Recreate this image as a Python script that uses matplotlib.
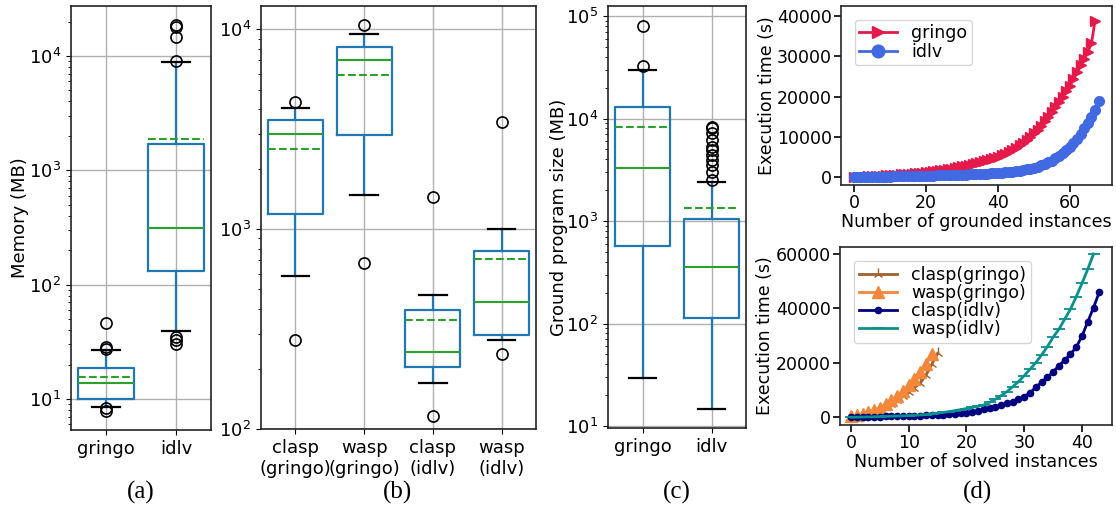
import matplotlib
matplotlib.use("Agg")
import matplotlib.pyplot as plt

# ---------------- data ----------------
# (a) memory
mem_labels = ["gringo", "idlv"]
mem_q1 = [10.0, 132]
mem_med = [13.9, 315]
mem_q3 = [18.8, 1710]
mem_mean = [15.5, 1890]
mem_whislo = [8.6, 39.4]
mem_whishi = [26.7, 8800]
mem_fliers = [[45.9, 28.6, 27.6, 8.3, 7.8],
              [18600, 17900, 14700, 9000, 35.0, 32.8, 30.5]]

# (b) solver memory
sol_labels = ["clasp\n(gringo)", "wasp\n(gringo)", "clasp\n(idlv)", "wasp\n(idlv)"]
sol_q1 = [1189, 2951, 204, 295]
sol_med = [2995, 7030, 244, 433]
sol_q3 = [3532, 8128, 392, 782]
sol_mean = [2512, 5929, 351, 710]
sol_whislo = [582, 1489, 169, 280]
sol_whishi = [4027, 9470, 468, 1000]
sol_fliers = [[4318, 280], [10507, 681], [1450, 116.5], [3450, 236]]

# (c) ground program size
gp_labels = ["gringo", "idlv"]
gp_q1 = [565, 112]
gp_med = [3280, 352]
gp_q3 = [13100, 1053]
gp_mean = [8300, 1327]
gp_whislo = [29.7, 14.8]
gp_whishi = [29650, 2377]
gp_fliers = [[32900, 80400],
             [2520, 3040, 3530, 3955, 4425, 4900, 5330, 6200, 7200, 8060, 8350]]

# (d) top: grounding times (cumulative)
gringo_time = [10, 60, 110, 160, 210, 260, 320, 380, 440, 500,
               560, 620, 680, 740, 800, 860, 930, 1000, 1080, 1160,
               1250, 1350, 1460, 1580, 1710, 1850, 2000, 2160, 2330, 2510,
               2700, 2890, 3080, 3280, 3490, 3710, 3950, 4200, 4470, 4770,
               5100, 5450, 5850, 6300, 6800, 7350, 7950, 8600, 9300, 10050,
               10900, 11800, 12800, 13900, 15000, 16200, 17400, 18700, 20000, 21300,
               22700, 24300, 26000, 27700, 29400, 31100, 33200, 38800]
idlv_time = [0, 20, 40, 60, 80, 100, 120, 140, 160, 180,
             200, 220, 240, 260, 280, 300, 320, 340, 360, 380,
             400, 420, 440, 460, 480, 510, 540, 570, 600, 630,
             660, 690, 720, 760, 800, 840, 880, 930, 980, 1040,
             1100, 1170, 1250, 1340, 1440, 1550, 1670, 1800, 1950, 2110,
             2400, 2650, 2950, 3300, 3700, 4150, 4700, 5300, 6000, 6700,
             7500, 8400, 9400, 10700, 12100, 13500, 15000, 16600, 18800]

# (d) bottom: solving times (cumulative)
clasp_gringo = [200, 500, 900, 1400, 2000, 2800, 3800, 5000, 6300, 7800,
                9400, 10900, 12600, 15500, 19500, 23500]
wasp_gringo = [300, 700, 1200, 1800, 2600, 3500, 4800, 6200, 7900, 9800,
               11800, 14000, 16500, 19500, 23300]
clasp_idlv = [0, 50, 100, 150, 200, 250, 300, 350, 400, 460,
              520, 580, 640, 700, 780, 900, 1000, 1120, 1260, 1450,
              1700, 2050, 2450, 2900, 3400, 3900, 4500, 5100, 5700, 6600,
              7600, 9000, 11000, 12900, 14700, 16700, 18900, 21000, 23200, 25700,
              29800, 35100, 40300, 46000]
wasp_idlv = [0, 50, 100, 150, 200, 260, 320, 390, 460, 540,
             630, 730, 850, 990, 1300, 1500, 1800, 2100, 2450, 2800,
             3200, 3600, 4050, 4520, 5510, 6610, 7940, 9400, 11240, 13080,
             15280, 17630, 20060, 22890, 25940, 29390, 32330, 36000, 39680, 44310,
             49230, 54370, 60000]

# ---------------- style ----------------
plt.rcParams["font.family"] = ["DejaVu Sans"]
W, H = 1116, 511
fig = plt.figure(figsize=(W / 100, H / 100), dpi=100)

def ax_px(l, t, r, b):
    return fig.add_axes([l / W, 1 - b / H, (r - l) / W, (b - t) / H])

BLUE = "#1f77b4"
GREEN = "#2ca02c"
FSB = 13

def make_stats(labels, q1, med, q3, mean, lo, hi, fl):
    return [dict(label=labels[i], q1=q1[i], med=med[i], q3=q3[i], mean=mean[i],
                 whislo=lo[i], whishi=hi[i], fliers=fl[i]) for i in range(len(labels))]

def box_panel(ax, stats):
    n = len(stats)
    ax.bxp(stats, positions=range(1, n + 1), widths=0.8, capwidths=0.4,
           showmeans=True, meanline=True,
           boxprops=dict(color=BLUE, lw=1.6),
           whiskerprops=dict(color=BLUE, lw=1.6),
           capprops=dict(color="black", lw=1.6),
           medianprops=dict(color=GREEN, lw=1.5),
           meanprops=dict(color=GREEN, ls="--", lw=1.5),
           flierprops=dict(marker="o", markerfacecolor="none",
                           markeredgecolor="black", markersize=8, markeredgewidth=1.2))
    ax.set_yscale("log")
    ax.set_xlim(0.5, n + 0.5)
    ax.grid(True, color="#b0b0b0", lw=1)
    ax.set_axisbelow(True)
    ax.tick_params(labelsize=FSB)
    for s in ax.spines.values():
        s.set_color("#222222")
        s.set_linewidth(1.2)

# (a)
axa = ax_px(71, 6, 211, 430)
box_panel(axa, make_stats(mem_labels, mem_q1, mem_med, mem_q3, mem_mean,
                          mem_whislo, mem_whishi, mem_fliers))
axa.set_ylim(5.36, 27350)
axa.set_ylabel("Memory (MB)", fontsize=FSB, labelpad=0)

# (b)
axb = ax_px(261, 6, 536, 429)
box_panel(axb, make_stats(sol_labels, sol_q1, sol_med, sol_q3, sol_mean,
                          sol_whislo, sol_whishi, sol_fliers))
axb.set_ylim(100, 13090)

# (c)
axc = ax_px(608, 6, 746, 428)
box_panel(axc, make_stats(gp_labels, gp_q1, gp_med, gp_q3, gp_mean,
                          gp_whislo, gp_whishi, gp_fliers))
axc.set_ylim(9.56, 125300)
axc.set_ylabel("Ground program size (MB)", fontsize=FSB, labelpad=-1.5)

# (d)
FSD = 12.5
def d_style(ax):
    ax.tick_params(labelsize=FSD, length=5, width=1.2, direction="out", pad=1.5)
    for s in ax.spines.values():
        s.set_color("#262626")
        s.set_linewidth(1.2)

axd1 = ax_px(841, 6, 1112, 185)
axd1.plot(range(len(gringo_time)), gringo_time, color="#e6194b", marker=">",
          markersize=7, lw=2, label="gringo")
axd1.plot(range(len(idlv_time)), idlv_time, color="#4169e1", marker="o",
          markersize=7, lw=2, label="idlv")
axd1.set_xlim(-3.6, 71.7)
axd1.set_ylim(-1900, 42400)
axd1.set_xticks([0, 20, 40, 60])
axd1.set_yticks([0, 10000, 20000, 30000, 40000])
axd1.set_xlabel("Number of grounded instances", fontsize=FSD, labelpad=1)
axd1.set_ylabel("Execution time (s)", fontsize=FSD, labelpad=1)
d_style(axd1)
axd1.legend(loc="upper left", fontsize=FSD, markerscale=1.3, labelspacing=0.05,
            handlelength=2.2, borderpad=0.25, borderaxespad=0.8)

axd2 = ax_px(840, 247, 1112, 425)
axd2.plot(range(len(clasp_gringo)), clasp_gringo, color="#a0612b", marker="2",
          markersize=8, lw=2, label="clasp(gringo)")
axd2.plot(range(len(wasp_gringo)), wasp_gringo, color="#f5873a", marker="^",
          markersize=8, lw=2, label="wasp(gringo)")
axd2.plot(range(len(clasp_idlv)), clasp_idlv, color="#000080", marker="o",
          markersize=4.5, lw=2, label="clasp(idlv)")
axd2.plot(range(len(wasp_idlv)), wasp_idlv, color="#0a8f8f", marker="_",
          markersize=8, markeredgewidth=1.3, lw=2, label="wasp(idlv)")
axd2.set_xlim(-1.9, 45.2)
axd2.set_ylim(-2830, 62570)
axd2.set_xticks([0, 10, 20, 30, 40])
axd2.set_yticks([0, 20000, 40000, 60000])
axd2.set_xlabel("Number of solved instances", fontsize=FSD, labelpad=1)
axd2.set_ylabel("Execution time (s)", fontsize=FSD, labelpad=1)
d_style(axd2)
axd2.legend(loc="upper left", fontsize=FSD, labelspacing=0.0,
            handlelength=2.2, borderpad=0.3, borderaxespad=0.8)

# captions
for x, t in [(141, "(a)"), (398, "(b)"), (677, "(c)"), (977, "(d)")]:
    fig.text(x / W, 1 - 492 / H, t, family="Liberation Serif", fontsize=18,
             ha="center", va="center")

fig.savefig("out.png", dpi=100)
